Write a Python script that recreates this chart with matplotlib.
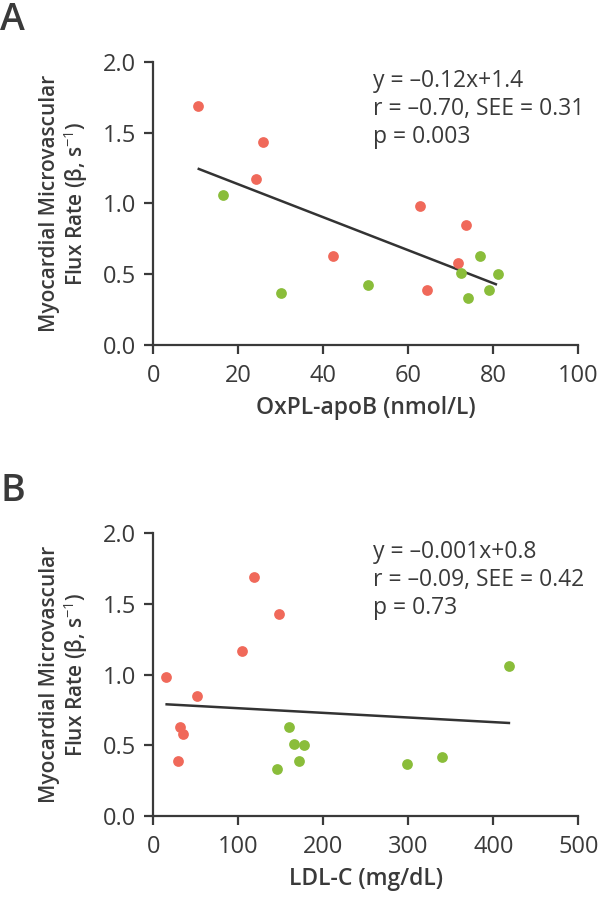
import matplotlib
matplotlib.use("Agg")
import matplotlib.pyplot as plt

plt.rcParams['font.family'] = ['Open Sans', 'DejaVu Sans']
plt.rcParams['mathtext.fontset'] = 'custom'
plt.rcParams['mathtext.rm'] = 'Open Sans'
plt.rcParams['mathtext.it'] = 'Open Sans'

# flux rate (beta, 1/s) for each patient, same patients in both panels
red_flux = [1.69, 1.43, 1.17, 0.63, 0.98, 0.85, 0.58, 0.39]
green_flux = [1.06, 0.37, 0.42, 0.63, 0.51, 0.50, 0.39, 0.33]

# panel A: OxPL-apoB
red_oxpl = [10.6, 25.8, 24.1, 42.4, 62.7, 73.6, 71.8, 64.5]
green_oxpl = [16.5, 30.1, 50.5, 76.9, 72.5, 81.0, 79.1, 74.1]
fit_a_x = [10.7, 80.6]
fit_a_y = [1.243, 0.429]
stats_a = "y = \u20130.12x+1.4\nr = \u20130.70, SEE = 0.31\np = 0.003"

# panel B: LDL-C
red_ldl = [118.8, 147.8, 104.7, 31.8, 15.3, 51.8, 35.3, 29.4]
green_ldl = [418.4, 145.1, 298.4, 159.6, 165.5, 176.9, 171.8, 339.6]
green_flux_b = [1.06, 0.33, 0.37, 0.63, 0.51, 0.50, 0.39, 0.42]
fit_b_x = [15.7, 418.4]
fit_b_y = [0.790, 0.658]
stats_b = "y = \u20130.001x+0.8\nr = \u20130.09, SEE = 0.42\np = 0.73"

RED = "#F0695A"
GREEN = "#8ABD3A"
INK = "#3a3a3a"

fig = plt.figure(figsize=(6, 8.97), dpi=100)
ax_a = fig.add_axes([0.2555, 0.6154, 0.7083, 0.3158])
ax_b = fig.add_axes([0.2555, 0.0903, 0.7083, 0.3152])


def style(ax, xmax, xstep, xlabel):
    ax.set_xlim(0, xmax)
    ax.set_ylim(0, 2.0)
    ax.set_xticks(range(0, xmax + 1, xstep))
    ax.set_yticks([0, 0.5, 1.0, 1.5, 2.0])
    ax.set_yticklabels(["0.0", "0.5", "1.0", "1.5", "2.0"])
    for s in ["top", "right"]:
        ax.spines[s].set_visible(False)
    for s in ["left", "bottom"]:
        ax.spines[s].set_linewidth(1.6)
        ax.spines[s].set_color(INK)
    ax.tick_params(length=6.5, width=1.6, color=INK, labelcolor=INK,
                   labelsize=17)
    ax.tick_params(axis="y", pad=6)
    ax.tick_params(axis="x", pad=7)
    ax.set_xlabel(xlabel, fontsize=16.5, color=INK, fontweight="semibold", labelpad=6)
    ax.set_ylabel("Myocardial Microvascular\nFlux Rate (\u03b2, s$^{-1}$)",
                  fontsize=15, color=INK, fontweight="semibold", labelpad=9,
                  linespacing=1.05)


style(ax_a, 100, 20, "OxPL-apoB (nmol/L)")
ax_a.plot(fit_a_x, fit_a_y, color="#333333", lw=1.8, zorder=2)
ax_a.scatter(red_oxpl, red_flux, s=60, color=RED, lw=0, zorder=3, clip_on=False)
ax_a.scatter(green_oxpl, green_flux, s=60, color=GREEN, lw=0, zorder=3, clip_on=False)
ax_a.text(0.517, 0.975, stats_a, transform=ax_a.transAxes, fontsize=16.5,
          color=INK, va="top", ha="left", linespacing=1.22)

style(ax_b, 500, 100, "LDL-C (mg/dL)")
ax_b.plot(fit_b_x, fit_b_y, color="#333333", lw=1.8, zorder=2)
ax_b.scatter(red_ldl, red_flux, s=60, color=RED, lw=0, zorder=3, clip_on=False)
ax_b.scatter(green_ldl, green_flux_b, s=60, color=GREEN, lw=0, zorder=3, clip_on=False)
ax_b.text(0.517, 0.975, stats_b, transform=ax_b.transAxes, fontsize=16.5,
          color=INK, va="top", ha="left", linespacing=1.22)

fig.text(0.0, 0.999, "A", fontsize=27, color=INK, va="top", ha="left",
         fontweight="semibold")
fig.text(0.0, 0.474, "B", fontsize=27, color=INK, va="top", ha="left",
         fontweight="semibold")

fig.savefig("out.png", dpi=100)
